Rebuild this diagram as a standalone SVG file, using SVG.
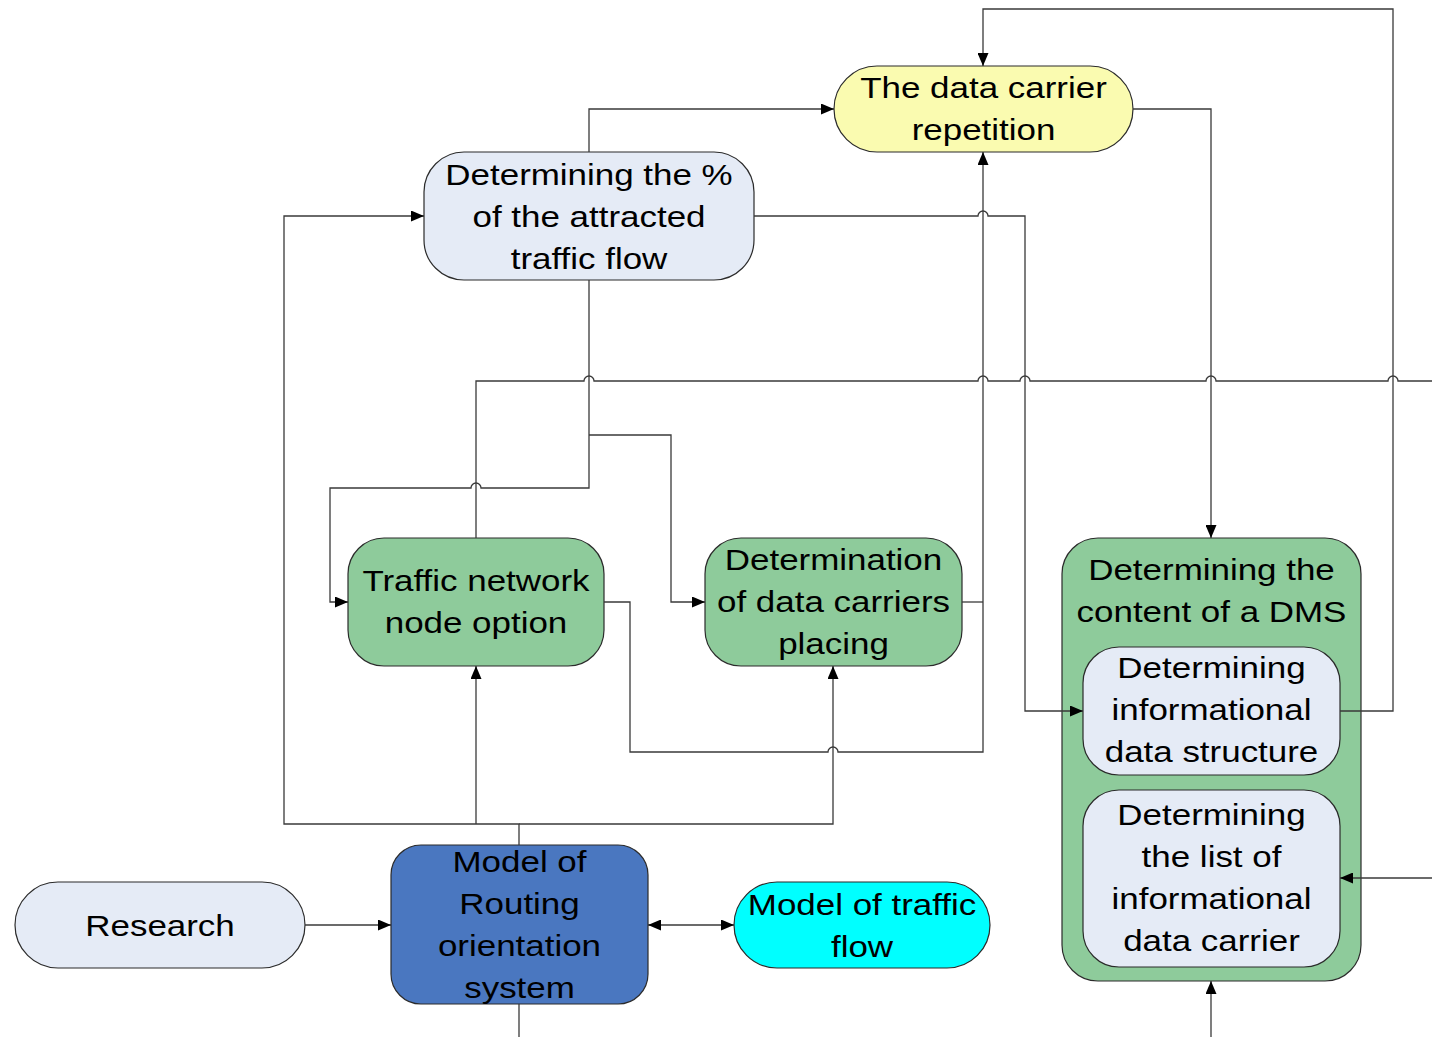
<svg xmlns="http://www.w3.org/2000/svg" width="1432" height="1037" viewBox="0 0 1432 1037">
<style>
.box{stroke:#2b2b2b;stroke-width:1.2}
.lb{fill:#E5EBF6}
.gr{fill:#8ECB9B}
.ye{fill:#FAFBB0}
.bl{fill:#4A77C0}
.cy{fill:#00FFFF}
.t{font-family:"Liberation Sans",Arial,sans-serif;font-size:30px;fill:#000;text-anchor:middle}
.c{fill:none;stroke:#3a3a3a;stroke-width:1.3}
</style>
<defs>
<marker id="ah" markerUnits="userSpaceOnUse" markerWidth="13" markerHeight="11" viewBox="0 0 13 11" refX="13" refY="5.5" orient="auto-start-reverse">
<path d="M0,0 L13,5.5 L0,11 z" fill="#000"/>
</marker>
</defs>
<rect width="1432" height="1037" fill="#fff"/>

<g id="repetition">
<rect class="box ye" x="834" y="66" width="299" height="86" rx="43"/>
<text class="t" transform="matrix(1.165 0 0 1 983.5 0)"><tspan x="0" y="98">The data carrier</tspan><tspan x="0" y="140">repetition</tspan></text>
</g>

<g id="determining-percent">
<rect class="box lb" x="424" y="152" width="330" height="128" rx="40"/>
<text class="t" transform="matrix(1.165 0 0 1 589 0)"><tspan x="0" y="185">Determining the %</tspan><tspan x="0" y="227">of the attracted</tspan><tspan x="0" y="269">traffic flow</tspan></text>
</g>

<g id="traffic-network">
<rect class="box gr" x="348" y="538" width="256" height="128" rx="36"/>
<text class="t" transform="matrix(1.165 0 0 1 476 0)"><tspan x="0" y="591">Traffic network</tspan><tspan x="0" y="633">node option</tspan></text>
</g>

<g id="determination-placing">
<rect class="box gr" x="705" y="538" width="257" height="128" rx="36"/>
<text class="t" transform="matrix(1.165 0 0 1 833.5 0)"><tspan x="0" y="570">Determination</tspan><tspan x="0" y="612">of data carriers</tspan><tspan x="0" y="654">placing</tspan></text>
</g>

<g id="dms">
<rect class="box gr" x="1062" y="538" width="299" height="443" rx="36"/>
<text class="t" transform="matrix(1.165 0 0 1 1211.5 0)"><tspan x="0" y="580">Determining the</tspan><tspan x="0" y="622">content of a DMS</tspan></text>
</g>

<g id="data-structure">
<rect class="box lb" x="1083" y="647" width="257" height="128" rx="36"/>
<text class="t" transform="matrix(1.165 0 0 1 1211.5 0)"><tspan x="0" y="678">Determining</tspan><tspan x="0" y="720">informational</tspan><tspan x="0" y="762">data structure</tspan></text>
</g>

<g id="list-carriers">
<rect class="box lb" x="1083" y="790" width="257" height="177" rx="36"/>
<text class="t" transform="matrix(1.165 0 0 1 1211.5 0)"><tspan x="0" y="825">Determining</tspan><tspan x="0" y="867">the list of</tspan><tspan x="0" y="909">informational</tspan><tspan x="0" y="951">data carrier</tspan></text>
</g>

<g id="research">
<rect class="box lb" x="15" y="882" width="290" height="86" rx="43"/>
<text class="t" transform="matrix(1.165 0 0 1 160 0)"><tspan x="0" y="936">Research</tspan></text>
</g>

<g id="routing-model">
<rect class="box bl" x="391" y="845" width="257" height="159" rx="30"/>
<text class="t" transform="matrix(1.165 0 0 1 519.5 0)"><tspan x="0" y="872">Model of</tspan><tspan x="0" y="914">Routing</tspan><tspan x="0" y="956">orientation</tspan><tspan x="0" y="998">system</tspan></text>
</g>

<g id="traffic-flow-model">
<rect class="box cy" x="734" y="882" width="256" height="86" rx="43"/>
<text class="t" transform="matrix(1.165 0 0 1 862 0)"><tspan x="0" y="915">Model of traffic</tspan><tspan x="0" y="957">flow</tspan></text>
</g>

<g id="connectors">
<path class="c" d="M305,925 H391" marker-end="url(#ah)"/>
<path class="c" d="M648,925 H734" marker-start="url(#ah)" marker-end="url(#ah)"/>
<path class="c" d="M519,845 V824 H284 V216 H424" marker-end="url(#ah)"/>
<path class="c" d="M476,824 V666" marker-end="url(#ah)"/>
<path class="c" d="M519,824 H833 V666" marker-end="url(#ah)"/>
<path class="c" d="M519,1004 V1037"/>
<path class="c" d="M604,602 H630 V752 H828 A5,5 0 0 1 838,752 H983 V152" marker-end="url(#ah)"/>
<path class="c" d="M962,602 H983"/>
<path class="c" d="M589,152 V109 H834" marker-end="url(#ah)"/>
<path class="c" d="M589,280 V488 H481 A5,5 0 0 0 471,488 H330 V602 H348" marker-end="url(#ah)"/>
<path class="c" d="M589,435 H671 V602 H705" marker-end="url(#ah)"/>
<path class="c" d="M476,538 V381 H584 A5,5 0 0 1 594,381 H978 A5,5 0 0 1 988,381 H1020 A5,5 0 0 1 1030,381 H1206 A5,5 0 0 1 1216,381 H1388 A5,5 0 0 1 1398,381 H1432"/>
<path class="c" d="M754,216 H978 A5,5 0 0 1 988,216 H1025 V711 H1083" marker-end="url(#ah)"/>
<path class="c" d="M1133,109 H1211 V538" marker-end="url(#ah)"/>
<path class="c" d="M1340,711 H1393 V9 H983 V66" marker-end="url(#ah)"/>
<path class="c" d="M1432,878 H1340" marker-end="url(#ah)"/>
<path class="c" d="M1211,1037 V981" marker-end="url(#ah)"/>
</g>
</svg>
